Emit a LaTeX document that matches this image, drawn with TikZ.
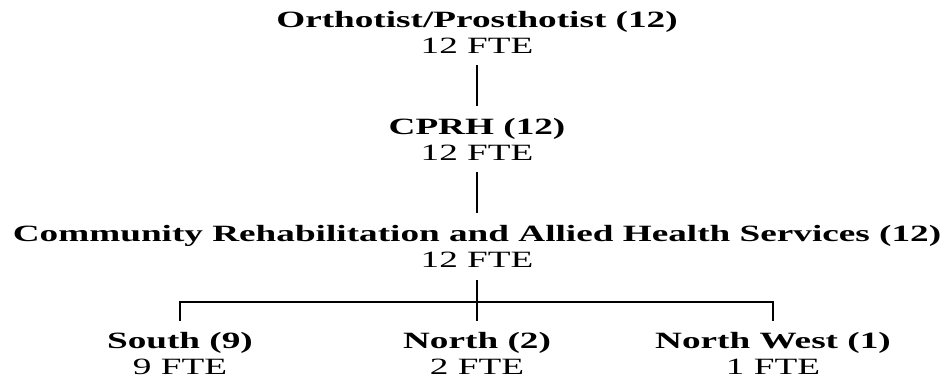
\documentclass[tikz,border=0pt]{standalone}
\usepackage{fontspec}
\usepackage{graphicx}
\setmainfont{Liberation Serif}
\newcommand{\stretchx}[1]{\scalebox{1.595}[1]{#1}}
\newcommand{\unitlabel}[2]{\stretchx{\textbf{#1}}\\\stretchx{#2}}
\tikzset{
  unit/.style={align=center, anchor=base, inner xsep=0pt, inner ysep=9pt,
    font=\fontsize{17.5}{19.3}\selectfont},
  link/.style={line width=1.8pt}
}
\begin{document}
\begin{tikzpicture}[x=0.75pt, y=-0.75pt]
  \useasboundingbox (0, 0) rectangle (949, 376);
  \node[unit] (opro) at (477, 53) {\unitlabel{Orthotist/Prosthotist (12)}{12 FTE}};
  \node[unit] (cprh) at (477, 160.2) {\unitlabel{CPRH (12)}{12 FTE}};
  \node[unit] (crahs) at (477, 267.4) {\unitlabel{Community Rehabilitation and Allied Health Services (12)}{12 FTE}};
  \node[unit] (south) at (180, 374.7) {\unitlabel{South (9)}{9 FTE}};
  \node[unit] (north) at (477, 374.7) {\unitlabel{North (2)}{2 FTE}};
  \node[unit] (nwest) at (773, 374.7) {\unitlabel{North West (1)}{1 FTE}};
  \coordinate (fork) at (477, 302);
  \draw[link] (opro) -- (cprh);
  \draw[link] (cprh) -- (crahs);
  \draw[link] (crahs) -- (north);
  \draw[link] (south.north) -- (south.north |- fork) -- (nwest.north |- fork) -- (nwest.north);
\end{tikzpicture}
\end{document}
